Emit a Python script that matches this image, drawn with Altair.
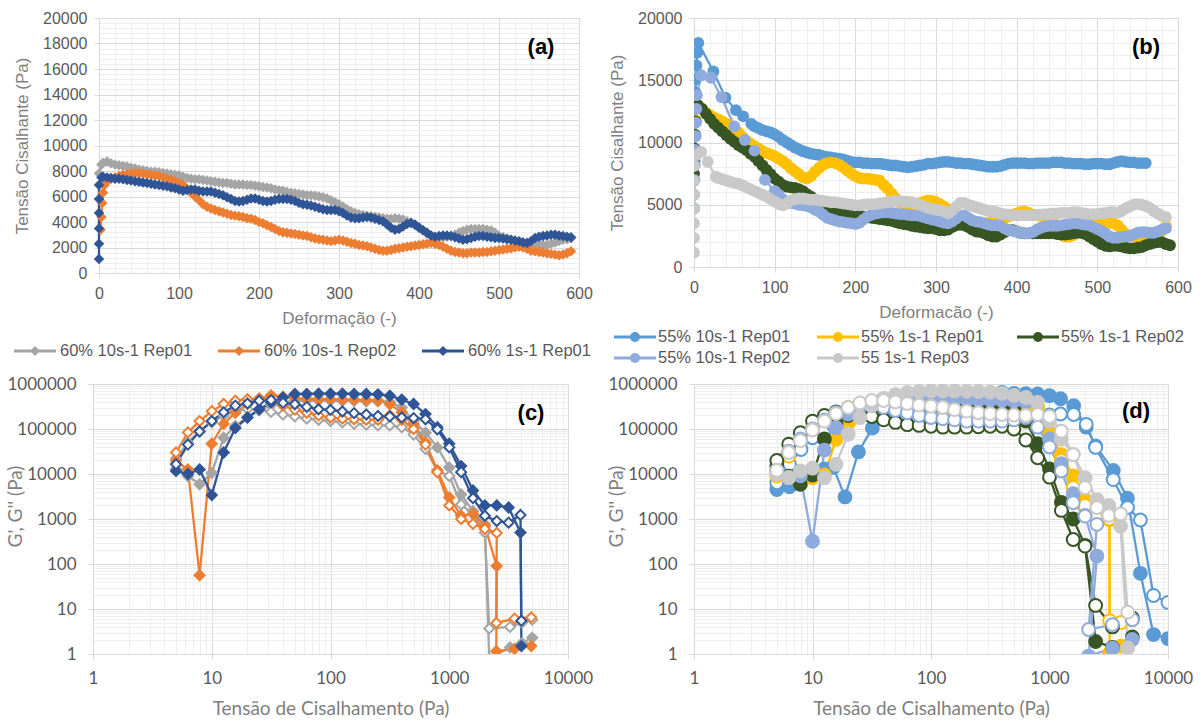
import altair as alt
import pandas as pd

# ---------------------------------------------------------------------------
# (a) 60 % samples: shear stress vs. deformation
# ---------------------------------------------------------------------------
A_NAMES = ["60% 10s-1 Rep01", "60% 10s-1 Rep02", "60% 1s-1 Rep01"]
A_COLORS = ["#A5A5A5", "#ED7D31", "#2F5597"]

# leading points of each run, then readings every 5 units of deformation
A_GRAY_HEAD_X = [0, 3]
A_GRAY_HEAD_Y = [7800, 8500]
A_GRAY_START = 5
A_GRAY = [8650, 8750, 8600, 8500, 8450, 8400, 8350, 8250, 8200, 8100,
          8050, 8000, 7950, 7950, 7900, 7850, 7800, 7750, 7700, 7650,
          7550, 7450, 7400, 7350, 7350, 7300, 7250, 7200, 7150, 7100,
          7050, 7050, 7000, 6950, 6950, 6950, 6900, 6900, 6850, 6800,
          6750, 6700, 6650, 6550, 6500, 6450, 6350, 6300, 6250, 6200,
          6150, 6100, 6100, 6050, 6000, 5950, 5850, 5700, 5550, 5400,
          5200, 5000, 4850, 4700, 4600, 4550, 4500, 4450, 4400, 4350,
          4300, 4250, 4250, 4300, 4250, 4200, 4050, 3900, 3750, 3600,
          3350, 3100, 2950, 2850, 2800, 2800, 2850, 2900, 3000, 3150,
          3300, 3400, 3450, 3450, 3450, 3450, 3400, 3350, 3150, 2900,
          2800, 2700, 2600, 2500, 2450, 2400, 2350, 2300, 2250, 2250,
          2200, 2200, 2300, 2400, 2500, 2600, 2650, 2700]

A_ORANGE_HEAD_X = [2, 3, 4, 5, 7]
A_ORANGE_HEAD_Y = [3400, 4400, 5500, 6300, 6900]
A_ORANGE_START = 10
A_ORANGE = [7200, 7400, 7500, 7600, 7700, 7750, 7800, 7850, 7850, 7800,
            7750, 7700, 7650, 7600, 7500, 7400, 7300, 7200, 7050, 6900,
            6600, 6300, 6000, 5700, 5400, 5200, 5050, 4950, 4850, 4750,
            4650, 4550, 4500, 4450, 4400, 4300, 4250, 4150, 4000, 3900,
            3750, 3600, 3450, 3300, 3200, 3150, 3100, 3050, 3000, 2950,
            2900, 2800, 2700, 2650, 2600, 2550, 2500, 2550, 2600, 2550,
            2450, 2350, 2300, 2200, 2150, 2100, 2000, 1900, 1800, 1750,
            1750, 1800, 1900, 1950, 2000, 2050, 2100, 2150, 2200, 2250,
            2300, 2350, 2300, 2200, 2050, 1900, 1750, 1650, 1600, 1550,
            1550, 1600, 1600, 1600, 1650, 1650, 1700, 1750, 1800, 1850,
            1900, 1950, 2000, 2050, 2000, 1900, 1750, 1700, 1650, 1600,
            1550, 1500, 1450, 1400, 1450, 1550, 1700]

A_BLUE_HEAD_X = [0, 0, 0, 0, 0, 0, 3]
A_BLUE_HEAD_Y = [1100, 2300, 3500, 4700, 5800, 6900, 7500]
A_BLUE_START = 5
A_BLUE = [7550, 7500, 7450, 7400, 7400, 7350, 7300, 7250, 7200, 7150,
          7100, 7050, 7000, 6950, 6900, 6850, 6800, 6700, 6650, 6550,
          6450, 6500, 6550, 6550, 6450, 6400, 6400, 6400, 6300, 6200,
          6100, 5950, 5800, 5650, 5600, 5650, 5750, 5850, 5850, 5750,
          5650, 5600, 5650, 5750, 5800, 5800, 5800, 5750, 5650, 5500,
          5400, 5350, 5300, 5200, 5100, 5000, 4950, 4950, 4950, 4850,
          4700, 4500, 4350, 4300, 4300, 4350, 4400, 4350, 4250, 4150,
          4050, 3800, 3550, 3400, 3450, 3650, 3850, 3950, 3800, 3550,
          3350, 3150, 2950, 2850, 2900, 2950, 2950, 2900, 2800, 2700,
          2600, 2650, 2750, 2850, 2900, 2900, 2850, 2800, 2750, 2750,
          2700, 2650, 2600, 2550, 2500, 2400, 2350, 2500, 2750, 2850,
          2900, 2950, 3000, 3000, 2950, 2900, 2850, 2800]

# ---------------------------------------------------------------------------
# (b) 55 % samples: shear stress vs. deformation
# ---------------------------------------------------------------------------
B_NAMES = ["55% 10s-1 Rep01", "55% 1s-1 Rep01", "55% 1s-1 Rep02",
           "55% 10s-1 Rep02", "55 1s-1 Rep03"]
B_COLORS = ["#5B9BD5", "#FFC000", "#375623", "#8FAADC", "#C9C9C9"]

B_MB_HEAD_X = [0, 0.5, 1, 1.5, 2, 2.5, 3, 4, 5.4, 24, 39, 52, 61, 71]
B_MB_HEAD_Y = [4700, 7000, 9400, 11700, 14000, 15100, 16200, 17200, 18000,
               15700, 13600, 12600, 12100, 11500]
B_MB_START = 75
B_MB = [11300, 11150, 11000, 10900, 10800, 10650, 10450, 10200, 10000, 9800,
        9600, 9450, 9300, 9200, 9100, 9050, 9000, 8900, 8850, 8800,
        8750, 8700, 8650, 8550, 8450, 8400, 8400, 8350, 8350, 8300,
        8300, 8300, 8250, 8200, 8150, 8150, 8100, 8050, 8000, 8050,
        8100, 8150, 8200, 8300, 8300, 8350, 8400, 8450, 8450, 8400,
        8350, 8350, 8300, 8300, 8250, 8200, 8150, 8100, 8050, 8050,
        8050, 8100, 8200, 8300, 8350, 8350, 8350, 8350, 8300, 8300,
        8350, 8350, 8350, 8350, 8400, 8400, 8400, 8350, 8350, 8300,
        8300, 8300, 8250, 8250, 8300, 8300, 8300, 8250, 8250, 8350,
        8450, 8500, 8450, 8400, 8400, 8350, 8350, 8350]

B_YE_HEAD_X = [0, 0.5, 1, 1.5, 2, 3]
B_YE_HEAD_Y = [7000, 8200, 9400, 10600, 11800, 12800]
B_YE_START = 5
B_YE = [12900, 12700, 12400, 12200, 12000, 11850, 11700, 11500, 11300, 11100,
        10800, 10450, 10150, 9900, 9700, 9500, 9300, 9150, 9050, 8900,
        8700, 8500, 8250, 7950, 7700, 7450, 7200, 7100, 7300, 7650,
        7950, 8200, 8350, 8400, 8350, 8200, 8000, 7750, 7500, 7300,
        7150, 7100, 7100, 7050, 7000, 6950, 6600, 6300, 5900, 5500,
        5200, 5050, 4950, 4950, 5050, 5150, 5250, 5350, 5300, 5200,
        5050, 4850, 4650, 4450, 4250, 4000, 3900, 3800, 3600, 3500,
        3450, 3500, 3550, 3600, 3700, 3800, 3950, 4050, 4200, 4300,
        4400, 4450, 4350, 4200, 4150, 4100, 4000, 3850, 3650, 3100,
        2600, 2450, 2450, 2550, 2850, 3050, 3250, 3400, 3500, 3550,
        3600, 3600, 3550, 3500, 3350, 3000, 2650, 2500, 2450, 2400,
        2450, 2550, 2650, 2700, 2800, 2900, 3300]

B_GR_HEAD_X = [0, 0.5, 1, 1.5, 2, 3]
B_GR_HEAD_Y = [7500, 8500, 9500, 10600, 11700, 12800]
B_GR_START = 5
B_GR = [13000, 12700, 12300, 11900, 11500, 11200, 10900, 10600, 10300, 10050,
        9800, 9600, 9400, 9100, 8850, 8500, 8150, 7800, 7450, 7100,
        6850, 6600, 6450, 6400, 6350, 6250, 6100, 5850, 5650, 5400,
        5150, 4950, 4800, 4700, 4600, 4500, 4400, 4300, 4250, 4200,
        4150, 4050, 4000, 3950, 3900, 3850, 3800, 3750, 3700, 3600,
        3500, 3450, 3400, 3300, 3250, 3200, 3150, 3100, 3100, 3050,
        2950, 2950, 3000, 3200, 3350, 3400, 3350, 3200, 3000, 2850,
        2800, 2700, 2550, 2450, 2450, 2600, 2800, 2950, 2950, 2850,
        2750, 2700, 2700, 2700, 2700, 2700, 2700, 2700, 2700, 2650,
        2600, 2600, 2650, 2700, 2750, 2750, 2650, 2450, 2250, 2050,
        1850, 1700, 1650, 1700, 1700, 1650, 1550, 1500, 1500, 1550,
        1600, 1750, 1850, 1950, 2000, 2000, 1850, 1750]

B_LB_HEAD_X = [0, 0.5, 1, 1.5, 2, 2.5, 3, 3.5, 8.8, 21, 34, 50, 63, 75, 88]
B_LB_HEAD_Y = [5800, 7000, 8200, 9400, 10500, 11600, 12700, 13800, 15400,
               15200, 13650, 11300, 10200, 9350, 7000]
B_LB_START = 100
B_LB = [6100, 5800, 5450, 5200, 5150, 5100, 5000, 4950, 4900, 4800,
        4600, 4450, 4200, 3950, 3850, 3750, 3650, 3600, 3550, 3500,
        3450, 3550, 3800, 4050, 4200, 4300, 4350, 4400, 4400, 4350,
        4300, 4250, 4250, 4200, 4150, 4150, 4100, 4000, 3900, 3800,
        3750, 3650, 3550, 3500, 3650, 3900, 4150, 4150, 3950, 3750,
        3650, 3600, 3500, 3400, 3350, 3350, 3300, 3100, 2950, 2900,
        2850, 2750, 2700, 2700, 2800, 3000, 3150, 3250, 3300, 3300,
        3300, 3350, 3400, 3450, 3500, 3500, 3450, 3400, 3350, 3200,
        3050, 2900, 2700, 2450, 2350, 2350, 2400, 2450, 2500, 2600,
        2750, 2800, 2800, 2750, 2750, 2850, 3000, 3100]

B_LG_HEAD_X = [0, 0, 0, 0, 0, 0, 0, 3, 9, 17, 27]
B_LG_HEAD_Y = [1150, 2340, 3500, 4680, 5840, 6910, 8100, 9000, 9250, 8450, 7250]
B_LG_START = 30
B_LG = [7150, 7050, 6950, 6850, 6750, 6700, 6550, 6400, 6250, 6100,
        5950, 5800, 5650, 5450, 5250, 5050, 4950, 5100, 5350, 5450,
        5500, 5500, 5450, 5400, 5400, 5350, 5300, 5250, 5200, 5200,
        5150, 5100, 5050, 5000, 4950, 4950, 5000, 5050, 5050, 5050,
        5100, 5150, 5200, 5250, 5300, 5300, 5250, 5250, 5200, 5100,
        5000, 4850, 4750, 4650, 4600, 4550, 4450, 4300, 4550, 4850,
        5150, 5150, 5000, 4900, 4800, 4700, 4600, 4500, 4450, 4400,
        4300, 4250, 4200, 4150, 4150, 4150, 4150, 4150, 4150, 4200,
        4200, 4250, 4250, 4300, 4300, 4350, 4350, 4350, 4400, 4400,
        4350, 4300, 4250, 4250, 4250, 4300, 4350, 4400, 4400, 4350,
        4500, 4700, 4850, 5000, 5050, 5000, 4900, 4750, 4500, 4300,
        4100, 4000]

# ---------------------------------------------------------------------------
# (c), (d) stress sweeps: G' (filled) and G'' (open) vs. shear stress
# ---------------------------------------------------------------------------
STRESS = [5.0, 6.3, 7.9, 10.0, 12.6, 15.8, 20.0, 25.1, 31.6, 39.8,
          50.1, 63.1, 79.4, 100, 126, 158, 200, 251, 316, 398,
          501, 631, 794, 1000, 1259, 1585, 1995, 2512, 3162, 3981]

C_GRAY_X = STRESS[:27] + [2170, 3250, 4100, 5000]
C_GRAY_G1 = [13000, 9000, 5900, 10500, 64000, 117000, 180000, 260000, 340000, 390000,
             420000, 430000, 430000, 430000, 420000, 420000, 410000, 410000, 400000, 300000,
             150000, 83000, 39000, 14000, 3500, 1500, 760, 0.8, 1.4, 1.75, 2.3]
C_GRAY_G2 = [22000, 50000, 90000, 140000, 200000, 250000, 280000, 270000, 240000, 210000,
             190000, 170000, 160000, 150000, 140000, 130000, 125000, 120000, 120000, 110000,
             75000, 36000, 12000, 9000, 2100, 1300, 500, 3.7, 4.0, 5.0, 5.8]

C_ORANGE_X = STRESS[:28] + [2490, 3550, 4900]
C_ORANGE_G1 = [19500, 12600, 56, 47000, 130000, 230000, 360000, 460000, 560000, 520000,
               480000, 470000, 460000, 460000, 450000, 450000, 440000, 430000, 355000, 235000,
               129000, 50000, 12000, 3000, 1180, 1300, 700, 90, 1.15, 1.3, 1.5]
C_ORANGE_G2 = [30000, 84000, 150000, 250000, 360000, 425000, 460000, 480000, 400000, 330000,
               270000, 230000, 200000, 180000, 170000, 165000, 160000, 160000, 200000, 160000,
               100000, 45000, 11000, 2000, 1000, 780, 600, 490, 4.9, 6.1, 6.5]

C_BLUE_X = STRESS[:30] + [4050]
C_BLUE_G1 = [11700, 10000, 12600, 3400, 30000, 105000, 180000, 275000, 390000, 500000,
             600000, 600000, 610000, 610000, 610000, 600000, 600000, 590000, 550000, 450000,
             360000, 215000, 110000, 47000, 15000, 4300, 2000, 2000, 1800, 500, 1.5]
C_BLUE_G2 = [16500, 45000, 88000, 150000, 235000, 330000, 370000, 425000, 440000, 380000,
             355000, 310000, 275000, 265000, 245000, 225000, 210000, 195000, 190000, 180000,
             175000, 165000, 98000, 39000, 11000, 2900, 1180, 900, 830, 1230, 5.5]

D_MB_X = [5.0, 6.4, 8.0, 10.0, 12.6, 15.0, 18.8, 24.4, 32.0, 42.0,
          50.1, 63.1, 79.4, 100, 126, 158, 200, 251, 316, 398,
          501, 631, 794, 1000, 1240, 1600, 2040, 2450, 3450, 4550, 5850, 7550, 10000]
D_MB_G1 = [4500, 5200, 7600, 10000, 13000, 14000, 3100, 31000, 105000, 240000,
           380000, 470000, 520000, 550000, 570000, 580000, 590000, 600000, 620000, 650000,
           620000, 610000, 600000, 550000, 470000, 330000, 110000, 42000, 12000, 2900, 62, 2.7, 2.2]
D_MB_G2 = [6400, 16500, 35000, 64000, 95000, 120000, 170000, 230000, 260000, 250000,
           230000, 210000, 195000, 185000, 175000, 170000, 165000, 160000, 160000, 160000,
           165000, 175000, 190000, 205000, 215000, 210000, 127000, 39000, 7500, 1800, 950, 20, 14]

D_YE_X = STRESS[:27] + [2450, 3200, 3220, 4000, 5000]
D_YE_G1 = [10000, 9000, 8000, 8300, 9500, 59000, 138000, 260000, 380000, 450000,
           460000, 470000, 470000, 470000, 470000, 460000, 460000, 450000, 440000, 420000,
           380000, 320000, 300000, 85000, 27000, 9100, 2500, 1290, 980, 1.05, 1.5, 2.2]
D_YE_G2 = [9000, 25000, 60000, 110000, 170000, 230000, 300000, 350000, 360000, 330000,
           290000, 260000, 240000, 230000, 220000, 215000, 210000, 205000, 200000, 200000,
           190000, 170000, 130000, 60000, 20000, 5000, 2000, 1100, 1000, 5.5, 5.0, 5.8]

D_GR_X = STRESS[:27] + [2450, 3400, 5000]
D_GR_G1 = [15000, 9000, 5900, 9500, 60000, 130000, 200000, 250000, 290000, 300000,
           300000, 300000, 300000, 300000, 300000, 300000, 300000, 290000, 290000, 280000,
           270000, 150000, 47000, 13000, 2350, 1000, 260, 1.9, 1.4, 2.4]
D_GR_G2 = [20000, 46000, 83000, 150000, 200000, 240000, 250000, 230000, 190000, 160000,
           140000, 125000, 120000, 115000, 110000, 110000, 110000, 112000, 115000, 115000,
           100000, 57000, 23000, 8500, 1550, 350, 250, 12, 4.0, 6.3]

D_LB_X = STRESS[:28] + [2140, 3400, 5000]
D_LB_G1 = [12000, 8500, 9100, 320, 34000, 107000, 215000, 320000, 400000, 440000,
           460000, 460000, 460000, 460000, 460000, 450000, 450000, 440000, 440000, 430000,
           420000, 400000, 200000, 60000, 17000, 3650, 1200, 150, 0.9, 1.35, 2.1]
D_LB_G2 = [12000, 32000, 60000, 100000, 160000, 230000, 290000, 330000, 330000, 300000,
           260000, 230000, 200000, 180000, 170000, 160000, 150000, 150000, 150000, 150000,
           160000, 180000, 110000, 40000, 11700, 2300, 1160, 760, 3.5, 4.5, 5.8]

D_LG_X = STRESS[:30] + [4570]
D_LG_G1 = [10000, 8300, 11700, 13500, 8300, 16500, 76000, 180000, 330000, 480000,
           580000, 650000, 680000, 700000, 700000, 700000, 690000, 680000, 660000, 620000,
           560000, 500000, 390000, 150000, 60000, 27000, 8300, 2700, 2000, 700, 1.36]
D_LG_G2 = [12000, 30000, 55000, 95000, 150000, 220000, 300000, 380000, 430000, 430000,
           400000, 370000, 340000, 320000, 300000, 270000, 250000, 230000, 220000, 210000,
           205000, 200000, 210000, 190000, 90000, 27000, 5000, 1800, 1200, 1300, 8.5]

# ---------------------------------------------------------------------------
# styling
# ---------------------------------------------------------------------------
ARIAL = "Liberation Sans"
CALIBRI = "Lato"
LABEL = "#595959"
TITLE = "#7F7F7F"
MAJOR = "#D9D9D9"
MINOR = "#EEEEEE"


def strain_rows(name, head_x, head_y, start, values, step=5):
    xs = list(head_x) + [start + step * k for k in range(len(values))]
    ys = list(head_y) + list(values)
    return [{"serie": name, "x": x, "y": y, "i": k}
            for k, (x, y) in enumerate(zip(xs, ys))]


def modulus_rows(names, colors, series):
    rows = []
    for name, color, (xs, g1, g2) in zip(names, colors, series):
        for kind, ys, fill in (("G1", g1, color), ("G2", g2, "#FFFFFF")):
            for k, (x, y) in enumerate(zip(xs, ys)):
                rows.append({"serie": name, "kind": kind, "x": x, "y": y, "i": k,
                             "stroke_c": color, "fill_c": fill})
    return pd.DataFrame(rows)


def grid_axis(values, major, font, size, title, title_size, label_pad, title_pad, **kw):
    return alt.Axis(
        values=values, format="d",
        labelExpr=f"({major}) ? datum.label : ''",
        grid=True,
        gridColor={"condition": {"test": major, "value": MAJOR}, "value": MINOR},
        tickColor={"condition": {"test": major, "value": MAJOR}, "value": "rgba(0,0,0,0)"},
        tickSize=5, domainColor=MAJOR,
        labelFont=font, labelFontSize=size, labelColor=LABEL,
        labelPadding=label_pad, labelFlush=False, labelOverlap=False, labelBound=False,
        title=title, titleFont=font, titleFontSize=title_size, titleColor=TITLE,
        titleFontWeight="normal", titlePadding=title_pad, **kw)


def one_row():
    return alt.Chart(pd.DataFrame({"t": [0]}))


def tag(text, x, y):
    return one_row().mark_text(
        text=text, font=ARIAL, fontSize=22, fontWeight="bold", color="#000000"
    ).encode(x=alt.value(x), y=alt.value(y))


def key_layers(names, colors, shape, size, col_x, row_y, text_dx, key_w=42):
    # series key below the panel: a short line with its marker, then the name
    layers = []
    for k, (name, color) in enumerate(zip(names, colors)):
        kx = col_x[k % len(col_x)]
        ky = row_y[k // len(col_x)]
        layers.append(one_row().mark_rule(color=color, strokeWidth=3).encode(
            x=alt.value(kx), x2=alt.value(kx + key_w), y=alt.value(ky)))
        layers.append(one_row().mark_point(shape=shape, size=size, filled=True,
                                           color=color, opacity=1).encode(
            x=alt.value(kx + key_w / 2), y=alt.value(ky)))
        layers.append(one_row().mark_text(
            text=name, align="left", baseline="middle", font=ARIAL, fontSize=16.5,
            color=LABEL).encode(x=alt.value(kx + text_dx), y=alt.value(ky)))
    return layers


def strain_panel(df, names, colors, shape, msize, w, h, ymajor, yminor, xtitle,
                 keys, label, lx, ly, inset=0):
    # `inset` leaves a blank strip left of the plot so that the panel lines up
    # with the one below it
    xax = grid_axis(list(range(0, 601, 20)), "datum.value % 100 === 0", ARIAL, 16,
                    xtitle, 17, 7, 9)
    yax = grid_axis(list(range(0, 20001, yminor)), f"datum.value % {ymajor} === 0", ARIAL, 16,
                    "Tensão Cisalhante (Pa)", 17, 7, 7, titleX=-68, offset=-inset)
    x = alt.X("x:Q", scale=alt.Scale(domain=[0, 600], range=[inset, w + inset],
                                     nice=False, zero=False), axis=xax)
    y = alt.Y("y:Q", scale=alt.Scale(domain=[0, 20000], nice=False), axis=yax)
    scale = alt.Scale(domain=names, range=colors)
    base = alt.Chart(df)
    lines = base.mark_line(strokeWidth=2.3, clip=True).encode(
        x=x, y=y, order="i:Q", stroke=alt.Stroke("serie:N", scale=scale, legend=None))
    points = base.mark_point(filled=True, shape=shape, size=msize, opacity=1,
                             strokeWidth=0, clip=True).encode(
        x=x, y=y, fill=alt.Fill("serie:N", scale=scale, legend=None))
    layers = [lines, points, tag(label, lx + inset, ly)] + list(keys)
    return alt.layer(*layers).properties(width=w + inset, height=h)


def modulus_panel(df, shape, msize, w, h, label, lx, ly):
    xvals = [m * 10 ** e for e in range(0, 4) for m in range(1, 10)] + [10000]
    yvals = [m * 10 ** e for e in range(0, 6) for m in range(1, 10)] + [1000000]
    dec_x = "indexof([1,10,100,1000,10000], datum.value) >= 0"
    dec_y = "indexof([1,10,100,1000,10000,100000,1000000], datum.value) >= 0"
    xax = grid_axis(xvals, dec_x, CALIBRI, 17, "Tensão de Cisalhamento (Pa)", 19, 11, 13)
    yax = grid_axis(yvals, dec_y, CALIBRI, 17, "G', G'' (Pa)", 19, 12, 8,
                    titleX=-68, titleY=122)
    x = alt.X("x:Q", scale=alt.Scale(type="log", domain=[1, 10000], nice=False), axis=xax)
    y = alt.Y("y:Q", scale=alt.Scale(type="log", domain=[1, 1000000], nice=False), axis=yax)
    base = alt.Chart(df)
    lines = base.mark_line(strokeWidth=2.3, clip=True).encode(
        x=x, y=y, order="i:Q", detail="kind:N",
        stroke=alt.Stroke("stroke_c:N", scale=None))
    points = base.mark_point(filled=True, shape=shape, size=msize, opacity=1,
                             strokeWidth=2, clip=True).encode(
        x=x, y=y,
        fill=alt.Fill("fill_c:N", scale=None),
        stroke=alt.Stroke("stroke_c:N", scale=None))
    return alt.layer(lines, points, tag(label, lx, ly)).properties(width=w, height=h)


# ---------------------------------------------------------------------------
# tables
# ---------------------------------------------------------------------------
df_a = pd.DataFrame(
    strain_rows(A_NAMES[0], A_GRAY_HEAD_X, A_GRAY_HEAD_Y, A_GRAY_START, A_GRAY)
    + strain_rows(A_NAMES[1], A_ORANGE_HEAD_X, A_ORANGE_HEAD_Y, A_ORANGE_START, A_ORANGE)
    + strain_rows(A_NAMES[2], A_BLUE_HEAD_X, A_BLUE_HEAD_Y, A_BLUE_START, A_BLUE))

df_b = pd.DataFrame(
    strain_rows(B_NAMES[0], B_MB_HEAD_X, B_MB_HEAD_Y, B_MB_START, B_MB)
    + strain_rows(B_NAMES[1], B_YE_HEAD_X, B_YE_HEAD_Y, B_YE_START, B_YE)
    + strain_rows(B_NAMES[2], B_GR_HEAD_X, B_GR_HEAD_Y, B_GR_START, B_GR)
    + strain_rows(B_NAMES[3], B_LB_HEAD_X, B_LB_HEAD_Y, B_LB_START, B_LB)
    + strain_rows(B_NAMES[4], B_LG_HEAD_X, B_LG_HEAD_Y, B_LG_START, B_LG))

df_c = modulus_rows(A_NAMES, A_COLORS, [
    (C_GRAY_X, C_GRAY_G1, C_GRAY_G2),
    (C_ORANGE_X, C_ORANGE_G1, C_ORANGE_G2),
    (C_BLUE_X, C_BLUE_G1, C_BLUE_G2)])

df_d = modulus_rows(B_NAMES, B_COLORS, [
    (D_MB_X, D_MB_G1, D_MB_G2),
    (D_YE_X, D_YE_G1, D_YE_G2),
    (D_GR_X, D_GR_G1, D_GR_G2),
    (D_LB_X, D_LB_G1, D_LB_G2),
    (D_LG_X, D_LG_G1, D_LG_G2)])

# ---------------------------------------------------------------------------
# panels
# ---------------------------------------------------------------------------
INSET_A = 6
keys_a = key_layers(A_NAMES, A_COLORS, "diamond", 100,
                    [-85 + INSET_A, 119 + INSET_A, 323 + INSET_A], [333], 46)
keys_b = key_layers(B_NAMES, B_COLORS, "circle", 100, [-80, 123, 323], [319, 340], 44)

pa = strain_panel(df_a, A_NAMES, A_COLORS, "diamond", 110, 480, 255, 2000, 400,
                  "Deformação (-)", keys_a, "(a)", 442, 29, inset=INSET_A)
pb = strain_panel(df_b, B_NAMES, B_COLORS, "circle", 140, 484, 249, 5000, 1000,
                  "Deformacão (-)", keys_b, "(b)", 452, 29)
pc = modulus_panel(df_c, "diamond", 100, 475, 270, "(c)", 438, 29)
pd_ = modulus_panel(df_d, "circle", 165, 474, 270, "(d)", 442, 27)

RES = dict(x="independent", y="independent", fill="independent", stroke="independent")

top = alt.hconcat(pa, pb, spacing=14).resolve_scale(**RES)
bottom = alt.hconcat(pc, pd_, spacing=14).resolve_scale(**RES)

chart = (
    alt.concat(top, bottom, columns=1, spacing=8, align="none")
    .resolve_scale(**RES)
    .properties(padding={"left": 6, "top": 10, "right": 4, "bottom": 4}, background="white")
    .configure_view(stroke=None)
)

chart.save("out.html", embed_options={"renderer": "svg", "actions": False})
